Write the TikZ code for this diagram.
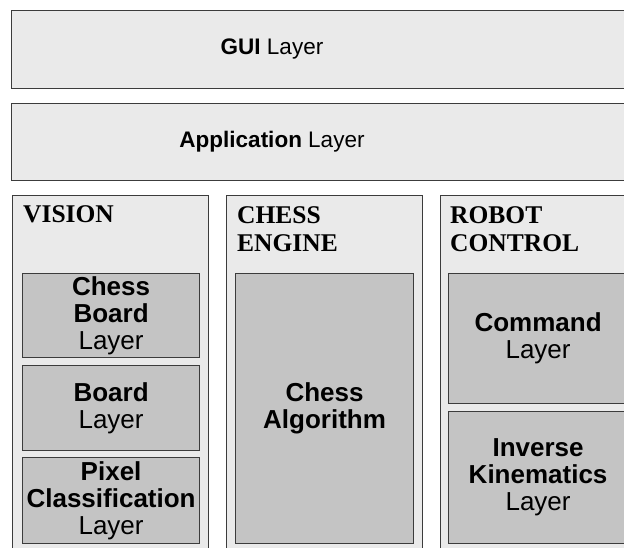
\documentclass[tikz,border=0pt]{standalone}
\usepackage{fontspec}
\setmainfont{Liberation Sans}
\newfontfamily\titlefont{Liberation Serif}
\usepackage{xcolor}
\usetikzlibrary{positioning}

\definecolor{edgegray}{HTML}{3C3C3C}
\definecolor{outerfill}{HTML}{EAEAEA}
\definecolor{innerfill}{HTML}{C4C4C4}

\begin{document}
\begin{tikzpicture}[
    x=1pt, y=-1pt,
    layer/.style={rectangle, draw=edgegray, fill=outerfill, line width=1.2pt, inner sep=0pt, anchor=north west},
    block/.style={rectangle, draw=edgegray, fill=innerfill, line width=1.2pt, inner sep=0pt, anchor=north west, align=center, font=\fontsize{26}{27}\selectfont},
    layertext/.style={inner sep=0pt, font=\fontsize{22.5}{26}\selectfont},
    coltitle/.style={inner sep=0pt, anchor=north west, align=left, font=\titlefont\bfseries\fontsize{25.5}{28}\selectfont}
]
\clip (0,0) rectangle (624,547);

% Row 1: GUI and application layers (full width)
\node[layer, minimum width=640pt, minimum height=78pt] at (11,10) (gui) {};
\node[layertext] at (272,49) (guitext) {\textbf{GUI} Layer};
\node[layer, minimum width=640pt, minimum height=77pt] at (11,103) (app) {};
\node[layertext] at (272,141.5) (apptext) {\textbf{Application} Layer};

% Row 2: three columns
\node[layer, minimum width=196pt, minimum height=380pt] at (12,195) (vision) {};
\node[layer, minimum width=196pt, minimum height=380pt] at (226,195) (engine) {};
\node[layer, minimum width=196pt, minimum height=380pt] at (440,195) (robot) {};

\node[coltitle] at (23,205) (visiontitle) {VISION};
\node[coltitle] at (237,206) (enginetitle) {CHESS\\ENGINE};
\node[coltitle] at (450,206) (robottitle) {ROBOT\\CONTROL};

% Vision blocks
\node[block, minimum width=177pt, minimum height=84pt] at (22,273) (chessboard) {\textbf{Chess}\\\textbf{Board}\\Layer};
\node[block, minimum width=177pt, minimum height=85pt] at (22,365) (board) {\textbf{Board}\\Layer};
\node[block, minimum width=177pt, minimum height=86pt] at (22,457) (pixel) {\textbf{Pixel}\\\textbf{Classification}\\Layer};

% Chess engine block
\node[block, minimum width=178pt, minimum height=270pt] at (235,273) (algo) {\textbf{Chess}\\\textbf{Algorithm}};

% Robot control blocks
\node[block, minimum width=179pt, minimum height=130pt] at (448,273) (command) {\textbf{Command}\\Layer};
\node[block, minimum width=179pt, minimum height=132pt] at (448,411) (kinematics) {\textbf{Inverse}\\\textbf{Kinematics}\\Layer};

\end{tikzpicture}
\end{document}
